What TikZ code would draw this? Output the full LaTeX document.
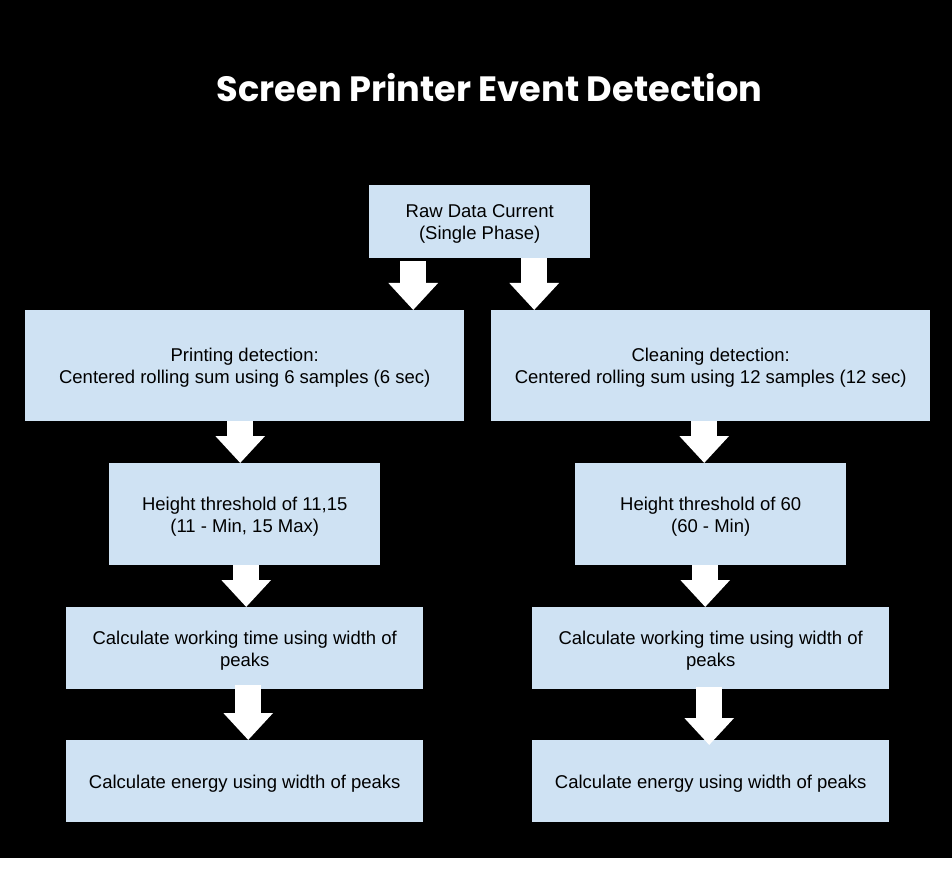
\documentclass[tikz,border=0pt]{standalone}
\usepackage{fontspec}
\usepackage{graphicx}
\setmainfont{Liberation Sans}
\newfontfamily\titlefont{Poppins}
\usetikzlibrary{arrows.meta}
\definecolor{boxblue}{HTML}{CFE2F3}
\newcommand\mystrut{\rule{0pt}{17.5pt}}
\tikzset{
  box/.style={fill=boxblue, draw=none, anchor=north west, align=center, inner sep=0pt,
    font=\fontsize{18.5}{22}\selectfont, text=black},
  blk/.style={white, line width=26pt, -{Triangle[width=48pt,length=27pt]}},
}
\begin{document}
\begin{tikzpicture}[x=1pt,y=-1pt]
\fill[black] (0,0) rectangle (952,858);
\fill[white] (0,858) rectangle (952,890);
\useasboundingbox (0,0) rectangle (952,890);
\node[anchor=base, text=white, inner sep=0pt] (title) at (489.5,102)
  {\resizebox{545pt}{!}{\titlefont\bfseries Screen Printer Event Detection}};
\node[box, minimum width=221pt, minimum height=73pt] (raw) at (369,185) {\mystrut Raw Data Current\\(Single Phase)};
\node[box, minimum width=439pt, minimum height=111pt] (print) at (25,310) {\mystrut Printing detection:\\Centered rolling sum using 6 samples (6 sec)};
\node[box, minimum width=439pt, minimum height=111pt] (clean) at (491,310) {\mystrut Cleaning detection:\\Centered rolling sum using 12 samples (12 sec)};
\node[box, minimum width=271pt, minimum height=102pt] (hL) at (109,463) {\mystrut Height threshold of 11,15\\(11 - Min, 15 Max)};
\node[box, minimum width=271pt, minimum height=102pt] (hR) at (575,463) {\mystrut Height threshold of 60\\(60 - Min)};
\node[box, minimum width=357pt, minimum height=82pt] (cL) at (66,607) {\mystrut Calculate working time using width of\\peaks};
\node[box, minimum width=357pt, minimum height=82pt] (cR) at (532,607) {\mystrut Calculate working time using width of\\peaks};
\node[box, minimum width=357pt, minimum height=82pt] (eL) at (66,740) {\mystrut Calculate energy using width of peaks};
\node[box, minimum width=357pt, minimum height=82pt] (eR) at (532,740) {\mystrut Calculate energy using width of peaks};
\coordinate (a1) at ([xshift=-66.5pt,yshift=-3pt]raw.south);
\coordinate (a2) at ([xshift=54.5pt]raw.south);
\coordinate (a3) at ([xshift=-4.5pt]print.south);
\coordinate (a4) at ([xshift=-6.5pt]clean.south);
\coordinate (a5) at ([xshift=1.5pt]hL.south);
\coordinate (a6) at ([xshift=-5.5pt]hR.south);
\coordinate (a7) at ([xshift=3.5pt,yshift=4pt]cL.south);
\coordinate (a8) at ([xshift=-1.5pt]cR.south);
\draw[blk] (a1) -- (a1 |- print.north);
\draw[blk] (a2) -- (a2 |- clean.north);
\draw[blk] (a3) -- (a3 |- hL.north);
\draw[blk] (a4) -- (a4 |- hR.north);
\draw[blk] (a5) -- (a5 |- cL.north);
\draw[blk] (a6) -- (a6 |- cR.north);
\draw[blk] (a7) -- (a7 |- eL.north);
\draw[blk] ([yshift=2pt]a8) -- ([yshift=-5pt]a8 |- eR.north);
\end{tikzpicture}
\end{document}
